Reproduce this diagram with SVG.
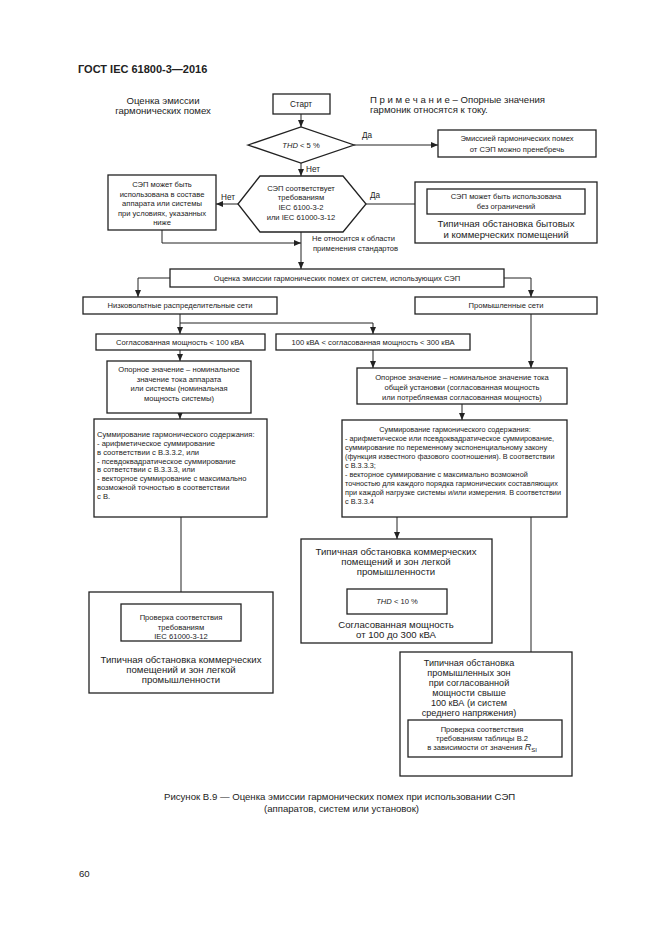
<svg xmlns="http://www.w3.org/2000/svg" width="661" height="935" viewBox="0 0 661 935">
<defs>
<marker id="ah" markerWidth="8" markerHeight="6" refX="7" refY="3" orient="auto" markerUnits="userSpaceOnUse">
<path d="M0,0 L7,3 L0,6 Z" fill="#222"/>
</marker>
<style>
text{font-family:"Liberation Sans",Arial,sans-serif;fill:#222}
.s{font-size:7.6px}
.t{font-size:7.3px}
.m{font-size:8.2px}
.l{font-size:9.6px}
.z{font-size:9.1px}
.c{text-anchor:middle}
.b{fill:#fff;stroke:#222;stroke-width:1.3}
.ln{fill:none;stroke:#222;stroke-width:1}
.ar{fill:none;stroke:#222;stroke-width:1;marker-end:url(#ah)}
</style>
</defs>
<rect width="661" height="935" fill="#fff"/>
<text x="78" y="73" style="font-size:11px;font-weight:bold">ГОСТ IEC 61800-3—2016</text>
<text class="l c" x="163" y="104">Оценка эмиссии</text>
<text class="l c" x="163" y="114">гармонических помех</text>
<text class="l" x="370" y="103">П р и м е ч а н и е – Опорные значения</text>
<text class="l" x="370" y="113">гармоник относятся к току.</text>

<g id="connectors">
<path class="ar" d="M301,114 V127"/>
<path class="ar" d="M354,145 H438"/>
<path class="ar" d="M301,163 V176"/>
<path class="ar" d="M366,204 H427"/>
<path class="ar" d="M238,204 H216"/>
<path class="ar" d="M162,230 V243 H301"/>
<path class="ar" d="M301,232 V269"/>
<path class="ar" d="M170,278 H138 V297"/>
<path class="ar" d="M504,278 H531 V297"/>
<path class="ar" d="M180,314 V334"/>
<path class="ar" d="M180,323 H373 V334"/>
<path class="ar" d="M180,350 V361"/>
<path class="ar" d="M373,350 V368"/>
<path class="ar" d="M531,314 V368"/>
<path class="ar" d="M180,413 V419"/>
<path class="ar" d="M462,404 V420"/>
<path class="ar" d="M397,517 V539"/>
<path class="ar" d="M531,517 V720"/>
<path class="ar" d="M181,517 V604"/>
<path class="ar" d="M397,578 V589"/>
<text class="m" x="362" y="138">Да</text>
<text class="m" x="306" y="172">Нет</text>
<text class="m" x="370" y="198">Да</text>
<text class="m" x="221" y="200">Нет</text>
<text class="s" x="312" y="241">Не относится к области</text>
<text class="s" x="313" y="251">применения стандартов</text>
</g>

<g id="start">
<rect class="b" x="273" y="94" width="57" height="20"/>
<text class="m c" x="301" y="107">Старт</text>
</g>
<g id="thd5">
<polygon class="b" points="248,145 301,127 354,145 301,163"/>
<text class="s c" x="301" y="148"><tspan font-style="italic">THD</tspan> &lt; 5 %</text>
</g>
<g id="negligible">
<rect class="b" x="438" y="130" width="158" height="27"/>
<text class="s c" x="517" y="141">Эмиссией гармонических помех</text>
<text class="s c" x="517" y="152">от СЭП можно пренебречь</text>
</g>
<g id="complies">
<polygon class="b" points="238,204 260,176 343,176 366,204 343,232 260,232"/>
<text class="s c" x="301" y="191">СЭП соответствует</text>
<text class="s c" x="301" y="200">требованиям</text>
<text class="s c" x="301" y="210">IEC 6100-3-2</text>
<text class="s c" x="301" y="220">или IEC 61000-3-12</text>
</g>
<g id="household">
<rect class="b" x="415" y="182" width="182" height="61"/>
<rect class="b" x="427" y="189" width="158" height="25"/>
<text class="s c" x="506" y="199">СЭП может быть использована</text>
<text class="s c" x="506" y="209">без ограничений</text>
<text class="l c" x="506" y="227">Типичная обстановка бытовых</text>
<text class="l c" x="506" y="238">и коммерческих помещений</text>
</g>
<g id="conditional">
<rect class="b" x="108" y="175" width="108" height="55"/>
<text class="s c" x="162" y="187">СЭП может быть</text>
<text class="s c" x="162" y="197">использована в составе</text>
<text class="s c" x="162" y="206">аппарата или системы</text>
<text class="s c" x="162" y="216">при условиях, указанных</text>
<text class="s c" x="162" y="225">ниже</text>
</g>
<g id="systems">
<rect class="b" x="170" y="269" width="334" height="18"/>
<text class="s c" x="337" y="281">Оценка эмиссии гармонических помех от систем, использующих СЭП</text>
</g>
<g id="lv">
<rect class="b" x="83" y="297" width="194" height="17"/>
<text class="s c" x="180" y="308">Низковольтные распределительные сети</text>
</g>
<g id="industrial">
<rect class="b" x="415" y="297" width="182" height="17"/>
<text class="s c" x="506" y="308">Промышленные сети</text>
</g>
<g id="p100">
<rect class="b" x="96" y="334" width="169" height="16"/>
<text class="s c" x="180" y="345">Согласованная мощность &lt; 100 кВА</text>
</g>
<g id="p300">
<rect class="b" x="276" y="334" width="194" height="16"/>
<text class="s c" x="373" y="345">100 кВА &lt; согласованная мощность &lt; 300 кВА</text>
</g>
<g id="refLeft">
<rect class="b" x="107" y="361" width="144" height="52"/>
<text class="s c" x="179" y="372">Опорное значение – номинальное</text>
<text class="s c" x="179" y="382">значение тока аппарата</text>
<text class="s c" x="179" y="391">или системы (номинальная</text>
<text class="s c" x="179" y="401">мощность системы)</text>
</g>
<g id="refRight">
<rect class="b" x="357" y="368" width="210" height="36"/>
<text class="s c" x="462" y="380">Опорное значение – номинальное значение тока</text>
<text class="s c" x="462" y="390">общей установки (согласованная мощность</text>
<text class="s c" x="462" y="400">или потребляемая согласованная мощность)</text>
</g>
<g id="sumLeft">
<rect class="b" x="94" y="419" width="173" height="98"/>
<text class="s" x="97" y="437">Суммирование гармонического содержания:</text>
<text class="s" x="97" y="446">- арифметическое суммирование</text>
<text class="s" x="97" y="455">в соответствии с В.3.3.2, или</text>
<text class="s" x="97" y="464">- псевдоквадратическое суммирование</text>
<text class="s" x="97" y="472">в сответствии с В.3.3.3, или</text>
<text class="s" x="97" y="481">- векторное суммирование с максимально</text>
<text class="s" x="97" y="490">возможной точностью в соответствии</text>
<text class="s" x="97" y="499">с В.</text>
</g>
<g id="sumRight">
<rect class="b" x="342" y="420" width="225" height="97"/>
<text class="t c" x="455" y="432">Суммирование гармонического содержания:</text>
<text class="t" x="345" y="441">- арифметическое или псевдоквадратическое суммирование,</text>
<text class="t" x="345" y="450">суммирование по переменному экспоненциальному закону</text>
<text class="t" x="345" y="459">(функция известного фазового соотношения). В соответствии</text>
<text class="t" x="345" y="468">с В.3.3.3;</text>
<text class="t" x="345" y="477">- векторное суммирование с максимально возможной</text>
<text class="t" x="345" y="486">точностью для каждого порядка гармонических составляющих</text>
<text class="t" x="345" y="495">при каждой нагрузке системы и/или измерения. В соответствии</text>
<text class="t" x="345" y="504">с В.3.3.4</text>
</g>
<g id="commercial">
<rect class="b" x="301" y="539" width="191" height="104"/>
<text class="l c" x="396" y="555">Типичная обстановка коммерческих</text>
<text class="l c" x="396" y="565">помещений и зон легкой</text>
<text class="l c" x="396" y="575">промышленности</text>
<rect class="b" x="347" y="589" width="100" height="25"/>
<text class="s c" x="397" y="604"><tspan font-style="italic">THD</tspan> &lt; 10 %</text>
<text class="l c" x="396" y="628">Согласованная мощность</text>
<text class="l c" x="396" y="638">от 100 до 300 кВА</text>
</g>
<g id="industrialZone">
<rect class="b" x="400" y="652" width="172" height="124"/>
<text class="z c" x="469" y="666">Типичная обстановка</text>
<text class="z c" x="469" y="676">промышленных зон</text>
<text class="z c" x="469" y="686">при согласованной</text>
<text class="z c" x="469" y="696">мощности свыше</text>
<text class="z c" x="469" y="706">100 кВА (и систем</text>
<text class="z c" x="469" y="716">среднего напряжения)</text>
<rect class="b" x="408" y="720" width="154" height="37"/>
<text class="s c" x="482" y="732">Проверка соответствия</text>
<text class="s c" x="482" y="741">требованиям таблицы В.2</text>
<text class="s c" x="482" y="750">в зависимости от значения <tspan font-style="italic" font-size="9px">R</tspan><tspan font-size="6px" dy="2">SI</tspan></text>
</g>
<g id="lightIndustry">
<rect class="b" x="89" y="592" width="184" height="101"/>
<rect class="b" x="121" y="604" width="120" height="37"/>
<text class="s c" x="181" y="620">Проверка соответствия</text>
<text class="s c" x="181" y="630">требованиям</text>
<text class="s c" x="181" y="639">IEC 61000-3-12</text>
<text class="l c" x="181" y="663">Типичная обстановка коммерческих</text>
<text class="l c" x="181" y="673">помещений и зон легкой</text>
<text class="l c" x="181" y="683">промышленности</text>
</g>
<text class="l" x="164" y="800">Рисунок В.9 — Оценка эмиссии гармонических помех при использовании СЭП</text>
<text class="l" x="264" y="812">(аппаратов, систем или установок)</text>
<text class="l" x="79" y="877">60</text>
</svg>
